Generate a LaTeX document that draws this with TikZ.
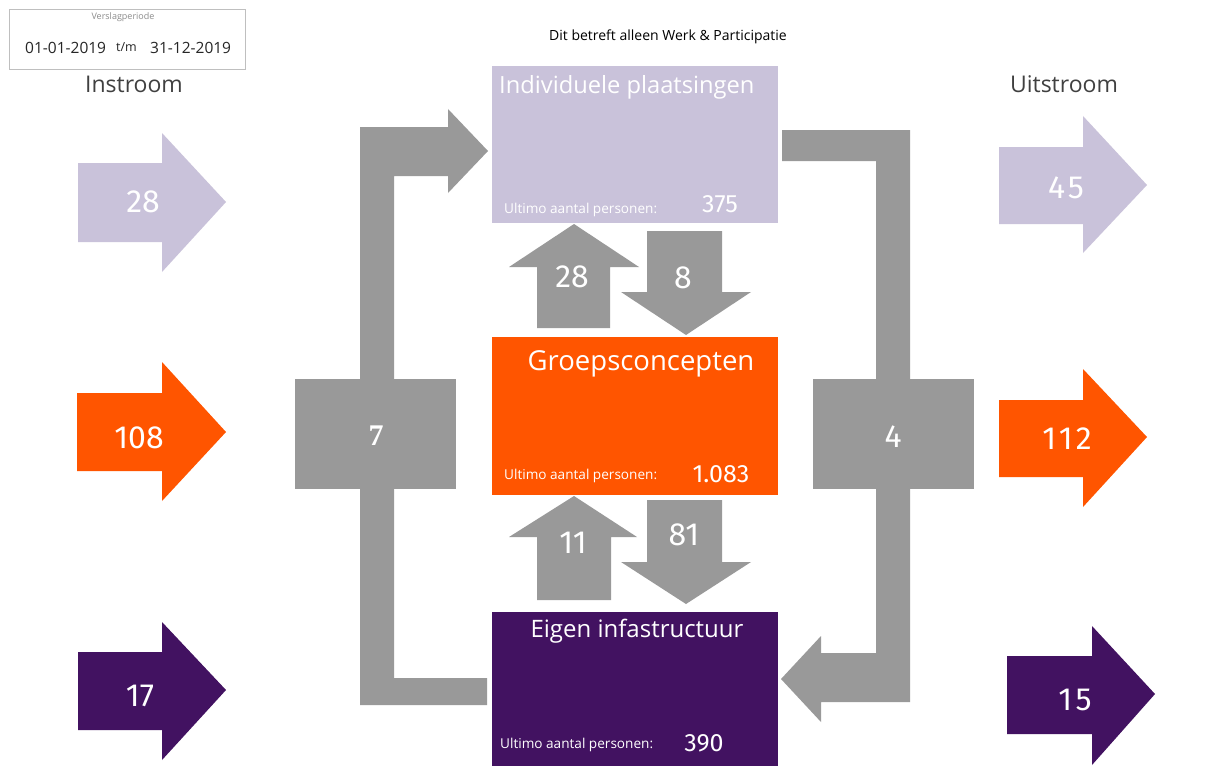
\documentclass[tikz,border=0pt]{standalone}
\usepackage{fontspec}
\setmainfont{Open Sans}
\newfontfamily\numfont{Fira Sans}
\newfontfamily\numfontsp[LetterSpace=10]{Fira Sans}
\newfontfamily\seriffont{Liberation Serif}
\definecolor{lav}{HTML}{C9C2DA}
\definecolor{org}{HTML}{FF5500}
\definecolor{pur}{HTML}{421261}
\definecolor{gr}{HTML}{999999}
\definecolor{txt}{HTML}{404040}
\begin{document}
\begin{tikzpicture}[x=1pt,y=-1pt,
  flow/.style={fill=gr,draw=none},
  catbox/.style={draw=none,anchor=north west,inner sep=0pt},
  lbl/.style={inner sep=0pt,anchor=base,text=white},
  bignum/.style={lbl,font=\numfont\fontsize{32}{36}\selectfont},
  bignumsp/.style={lbl,font=\numfontsp\fontsize{32}{36}\selectfont},
  ultimo/.style={inner sep=0pt,anchor=base west,text=white,font=\fontsize{13.6}{16}\selectfont},
  stock/.style={lbl,font=\numfont\fontsize{25}{28}\selectfont},
  heading/.style={inner sep=0pt,anchor=base,text=txt,font=\fontsize{23}{26}\selectfont}]
\useasboundingbox[fill=white] (0,0) rectangle (1214,765);

% period box
\node[draw=black!25,line width=0.8pt,minimum width=236pt,minimum height=60pt,anchor=north west,inner sep=0pt] (period) at (9,9) {};
\node[inner sep=0pt,anchor=base,text=black!45,font=\fontsize{9}{11}\selectfont] (plabel) at (123,20) {Verslagperiode};
\node[inner sep=0pt,anchor=base west,text=black!85,font=\fontsize{15.5}{18}\selectfont] (pfrom) at (25,54) {01-01-2019};
\node[inner sep=0pt,anchor=base west,text=black!85,font=\fontsize{12.5}{14}\selectfont] (ptm) at (116,52) {t/m};
\node[inner sep=0pt,anchor=base west,text=black!85,font=\fontsize{15.5}{18}\selectfont] (pto) at (150,54) {31-12-2019};

\node[inner sep=0pt,anchor=base,text=black,font=\fontsize{14}{16}\selectfont] (title) at (668,41) {Dit betreft alleen Werk \& Participatie};
\node[heading] (instroom) at (134,93) {Instroom};
\node[heading] (uitstroom) at (1064,93) {Uitstroom};

% category boxes
\node[catbox,fill=lav,minimum width=286pt,minimum height=157pt] (ind) at (492,66) {};
\node[catbox,fill=org,minimum width=286pt,minimum height=158pt] (grp) at (492,337) {};
\node[catbox,fill=pur,minimum width=286pt,minimum height=160pt] (eig) at (492,612) {};

\node[inner sep=0pt,anchor=base west,text=white,font=\fontsize{23.7}{26}\selectfont] (indt) at (499,94) {Individuele plaatsingen};
\node[ultimo] (indu) at (504,213) {Ultimo aantal personen:};
\node[stock] (indn) at (720,212) {375};

\node[inner sep=0pt,anchor=base,text=white,font=\fontsize{27.5}{30}\selectfont] (grpt) at (641,370) {Groepsconcepten};
\node[ultimo] (grpu) at (504,479) {Ultimo aantal personen:};
\node[stock] (grpn) at (721,482) {1.083};

\node[inner sep=0pt,anchor=base,text=white,font=\fontsize{24}{27}\selectfont] (eigt) at (637,637) {Eigen infastructuur};
\node[ultimo] (eigu) at (500,748) {Ultimo aantal personen:};
\node[stock] (eign) at (704,751) {390};

% inflow arrows
\fill[lav] (78,163) -- (162,163) -- (162,133) -- (226,202) -- (162,272) -- (162,242) -- (78,242) -- cycle;
\fill[org] (77,393) -- (162,393) -- (162,362) -- (226,432) -- (162,501) -- (162,471) -- (77,471) -- cycle;
\fill[pur] (78,652) -- (162,652) -- (162,622) -- (226,690) -- (162,760) -- (162,730) -- (78,730) -- cycle;
\node[bignum] (in1) at (143,212) {28};
\node[bignum] (in2) at (139,448) {108};
\node[bignum] (in3) at (140,706) {17};

% outflow arrows
\fill[lav] (999,147) -- (1083,147) -- (1083,116) -- (1147,185) -- (1083,253) -- (1083,224) -- (999,224) -- cycle;
\fill[org] (999,400) -- (1083,400) -- (1083,369) -- (1147,437) -- (1083,507) -- (1083,477) -- (999,477) -- cycle;
\fill[pur] (1007,656) -- (1092,656) -- (1092,626) -- (1155,694) -- (1092,765) -- (1092,734) -- (1007,734) -- cycle;
\node[bignumsp] (out1) at (1066,198) {45};
\node[bignumsp] (out2) at (1067,449) {112};
\node[bignumsp] (out3) at (1075,710) {15};

% transfers between categories
\fill[flow] (537,328) -- (537,267) -- (509,267) -- (574,224) -- (639,267) -- (610,267) -- (610,328) -- cycle;
\fill[flow] (647,231) -- (722,231) -- (722,292) -- (751,292) -- (686,335) -- (621,292) -- (647,292) -- cycle;
\fill[flow] (537,600) -- (537,537) -- (509,537) -- (574,496) -- (637,537) -- (611,537) -- (611,600) -- cycle;
\fill[flow] (647,500) -- (722,500) -- (722,562) -- (751,562) -- (686,604) -- (621,562) -- (647,562) -- cycle;
\node[bignum] (t1) at (572,287) {28};
\node[bignum] (t2) at (683,288) {8};
\node[bignum] (t3) at (573,553) {11};
\node[bignum] (t4) at (684,545) {81};

% left loop (eigen -> individueel)
\fill[flow] (360,127) -- (448,127) -- (448,109) -- (488,151) -- (448,193) -- (448,176) -- (394,176) -- (394,678) -- (487,678) -- (487,705) -- (360,705) -- cycle;
\node[flow,minimum width=161pt,minimum height=110pt,anchor=north west,inner sep=0pt] (lbox) at (295,379) {};
\node[lbl,font=\seriffont\bfseries\fontsize{30}{34}\selectfont] (l7) at (376,445) {7};

% right loop (individueel -> eigen)
\fill[flow] (782,130) -- (910,130) -- (910,702) -- (821,702) -- (821,722) -- (781,679) -- (821,636) -- (821,653) -- (876,653) -- (876,161) -- (782,161) -- cycle;
\node[flow,minimum width=161pt,minimum height=110pt,anchor=north west,inner sep=0pt] (rbox) at (813,379) {};
\node[bignum] (r4) at (893,447) {4};
\end{tikzpicture}
\end{document}
